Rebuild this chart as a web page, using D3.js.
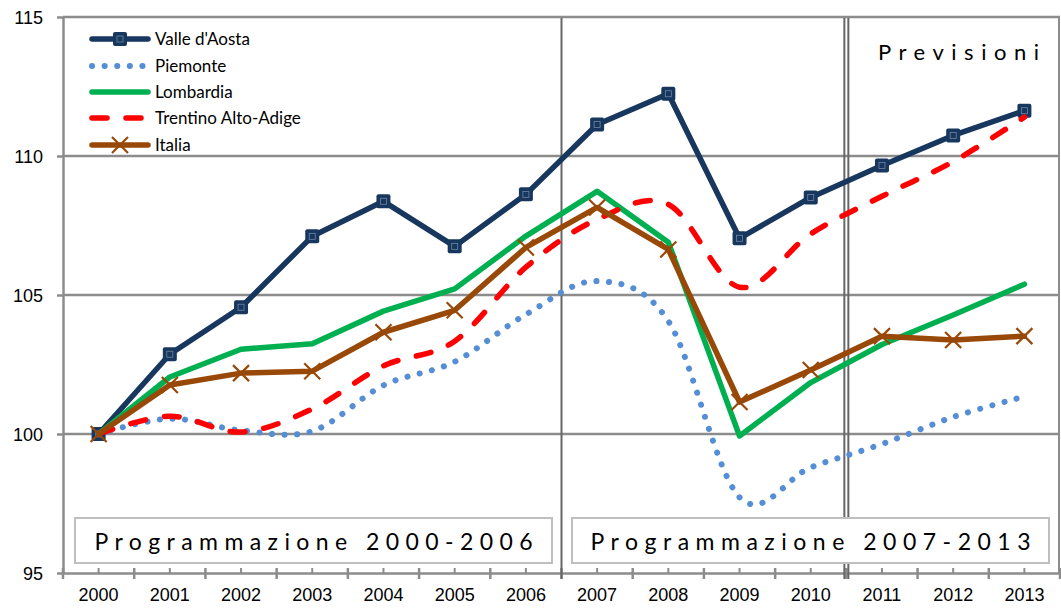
<!DOCTYPE html>
<html>
<head>
<meta charset="utf-8">
<script src="https://cdn.jsdelivr.net/npm/d3@7"></script>
<style>
  body { margin: 0; background: #fff; }
  svg { display: block; font-family: Lato, "Open Sans", sans-serif; }
  .grid line { stroke: #8c8c8c; stroke-width: 2.5; }
  .axis path, .axis line { stroke: #8c8c8c; stroke-width: 2.5; }
  .axis text { font-size: 18px; fill: #000; }
</style>
</head>
<body>
<script>
// Data (index, 2000 = 100)
var years = ['2000', '2001', '2002', '2003', '2004', '2005', '2006',
             '2007', '2008', '2009', '2010', '2011', '2012', '2013'];
var valleAosta = [100, 102.87, 104.56, 107.11, 108.37, 106.75, 108.62, 111.13, 112.24, 107.04, 108.51, 109.66, 110.74, 111.63];
var piemonte   = [100, 100.55, 100.13, 100.1, 101.75, 102.6, 104.3, 105.5, 104.06, 97.72, 98.8, 99.64, 100.61, 101.35];
var lombardia  = [100, 102.05, 103.05, 103.25, 104.42, 105.22, 107.12, 108.73, 106.9, 99.93, 101.85, 103.22, 104.28, 105.39];
var trentino   = [100, 100.64, 100.07, 100.9, 102.45, 103.34, 106.0, 107.72, 108.26, 105.28, 107.2, 108.55, 109.8, 111.4];
var italia     = [100, 101.76, 102.19, 102.26, 103.66, 104.45, 106.71, 108.15, 106.64, 101.15, 102.3, 103.52, 103.38, 103.52];
var yTicks = [95, 100, 105, 110, 115];

var seriesNames = ["Valle d'Aosta", 'Piemonte', 'Lombardia', 'Trentino Alto-Adige', 'Italia'];
var seriesData = [valleAosta, piemonte, lombardia, trentino, italia];
var seriesColors = ['#17375e', '#558ed5', '#00b050', '#ff0000', '#984807'];

var svg_width = 1061;
var svg_height = 615;
var plot_left = 63;
var plot_right = 1060;
var plot_top = 17;
var plot_bottom = 573;

var svg = d3.select('body').append('svg')
  .attr('width', svg_width)
  .attr('height', svg_height);

var x = d3.scaleBand().domain(years).range([plot_left, plot_right]);
var y = d3.scaleLinear().domain([95, 115]).range([plot_bottom, plot_top]);
var xc = function(d) { return x(d) + x.bandwidth() / 2; };

// horizontal grid lines
svg.append('g').attr('class', 'grid')
  .selectAll('line')
  .data(yTicks.slice(1))
  .enter()
  .append('line')
  .attr('x1', plot_left)
  .attr('x2', plot_right)
  .attr('y1', function(d) { return y(d); })
  .attr('y2', function(d) { return y(d); });

// right border
svg.append('line')
  .attr('x1', plot_right - 1).attr('x2', plot_right - 1)
  .attr('y1', plot_top).attr('y2', plot_bottom)
  .attr('stroke', '#8c8c8c').attr('stroke-width', 2);

// y axis
var yAxis = svg.append('g').attr('class', 'axis')
  .attr('transform', 'translate(' + plot_left + ',0)')
  .call(d3.axisLeft(y).tickValues(yTicks).tickSize(6).tickSizeOuter(0).tickPadding(14));
yAxis.selectAll('text').attr('dy', '0.35em');

// x axis (labels only, ticks drawn below)
var xAxis = svg.append('g').attr('class', 'axis')
  .attr('transform', 'translate(0,' + plot_bottom + ')')
  .call(d3.axisBottom(x).tickSize(0).tickSizeOuter(0).tickPadding(22));
xAxis.selectAll('text').attr('dy', '0.35em');

// major ticks at category boundaries, minor ticks at centres
var boundaries = years.map(function(d) { return x(d); }).concat([plot_right]);
svg.selectAll('line.major-tick')
  .data(boundaries)
  .enter()
  .append('line')
  .attr('class', 'major-tick')
  .attr('x1', function(d) { return d; }).attr('x2', function(d) { return d; })
  .attr('y1', plot_bottom - 5).attr('y2', plot_bottom + 6)
  .attr('stroke', '#8c8c8c').attr('stroke-width', 2.5);
svg.selectAll('line.minor-tick')
  .data(years)
  .enter()
  .append('line')
  .attr('class', 'minor-tick')
  .attr('x1', xc).attr('x2', xc)
  .attr('y1', plot_bottom - 5).attr('y2', plot_bottom)
  .attr('stroke', '#8c8c8c').attr('stroke-width', 2);

// period separators
svg.append('line')
  .attr('x1', x('2007')).attr('x2', x('2007'))
  .attr('y1', plot_top + 1).attr('y2', plot_bottom + 6)
  .attr('stroke', '#666').attr('stroke-width', 2);
[-2, 2].forEach(function(off) {
  svg.append('line')
    .attr('x1', x('2011') + off).attr('x2', x('2011') + off)
    .attr('y1', plot_top + 1).attr('y2', plot_bottom + 6)
    .attr('stroke', '#666').attr('stroke-width', 2);
});

// labelled boxes
var boxes = [
  { text: 'Programmazione 2000-2006', x0: 75, x1: 552, tl: 438 },
  { text: 'Programmazione 2007-2013', x0: 572, x1: 1049, tl: 440 }
];
boxes.forEach(function(b) {
  svg.append('rect')
    .attr('x', b.x0).attr('y', 518)
    .attr('width', b.x1 - b.x0).attr('height', 45)
    .attr('fill', '#fff').attr('stroke', '#bfbfbf').attr('stroke-width', 2);
  svg.append('text')
    .attr('x', (b.x0 + b.x1) / 2 - b.tl / 2)
    .attr('y', 550)
    .attr('textLength', b.tl)
    .attr('lengthAdjust', 'spacing')
    .style('font-size', '23px')
    .text(b.text);
});
svg.append('text')
  .attr('x', 878).attr('y', 60)
  .attr('textLength', 161)
  .attr('lengthAdjust', 'spacing')
  .style('font-size', '22px')
  .text('Previsioni');

// lines
var straight = d3.line()
  .x(function(d, i) { return xc(years[i]); })
  .y(function(d) { return y(d); });
var smooth = d3.line()
  .x(function(d, i) { return xc(years[i]); })
  .y(function(d) { return y(d); })
  .curve(d3.curveCardinal.tension(0));

var styleLine = function(sel, i) {
  sel.attr('fill', 'none')
    .attr('stroke', seriesColors[i])
    .attr('stroke-width', 5.5)
    .attr('stroke-linejoin', 'round')
    .attr('stroke-linecap', 'round');
  if (i === 1) sel.attr('stroke-dasharray', '0.1,12.5').attr('stroke-width', 6);
  if (i === 3) sel.attr('stroke-dasharray', '15,19');
};

// markers
var drawSquare = function(g, cx, cy) {
  g.append('rect')
    .attr('x', cx - 7).attr('y', cy - 7).attr('width', 14).attr('height', 14)
    .attr('rx', 2).attr('fill', '#17375e');
  g.append('rect')
    .attr('x', cx - 3).attr('y', cy - 3).attr('width', 6).attr('height', 6)
    .attr('fill', 'none').attr('stroke', '#6d86a6').attr('stroke-width', 0.8);
};
var drawCross = function(g, cx, cy) {
  g.append('path')
    .attr('d', 'M' + (cx - 8) + ',' + (cy - 8) + 'L' + (cx + 8) + ',' + (cy + 8) +
               'M' + (cx + 8) + ',' + (cy - 8) + 'L' + (cx - 8) + ',' + (cy + 8))
    .attr('stroke', '#984807').attr('stroke-width', 2.2);
};

seriesData.forEach(function(data, i) {
  var g = svg.append('g').attr('class', 'series');
  g.append('path')
    .datum(data)
    .attr('d', (i === 1 || i === 3) ? smooth : straight)
    .call(styleLine, i);
  if (i === 0) data.forEach(function(d, j) { drawSquare(g, xc(years[j]), y(d)); });
  if (i === 4) data.forEach(function(d, j) { drawCross(g, xc(years[j]), y(d)); });
});

// legend
var legendY = [39, 66, 92, 118, 145];
seriesNames.forEach(function(name, i) {
  var g = svg.append('g').attr('class', 'legend');
  g.append('path')
    .attr('d', 'M92,' + legendY[i] + 'L148,' + legendY[i])
    .call(styleLine, i);
  if (i === 0) drawSquare(g, 120, legendY[i]);
  if (i === 4) drawCross(g, 120, legendY[i]);
  g.append('text')
    .attr('x', 155).attr('y', legendY[i] + 6)
    .style('font-size', '17px')
    .text(name);
});
</script>
</body>
</html>
